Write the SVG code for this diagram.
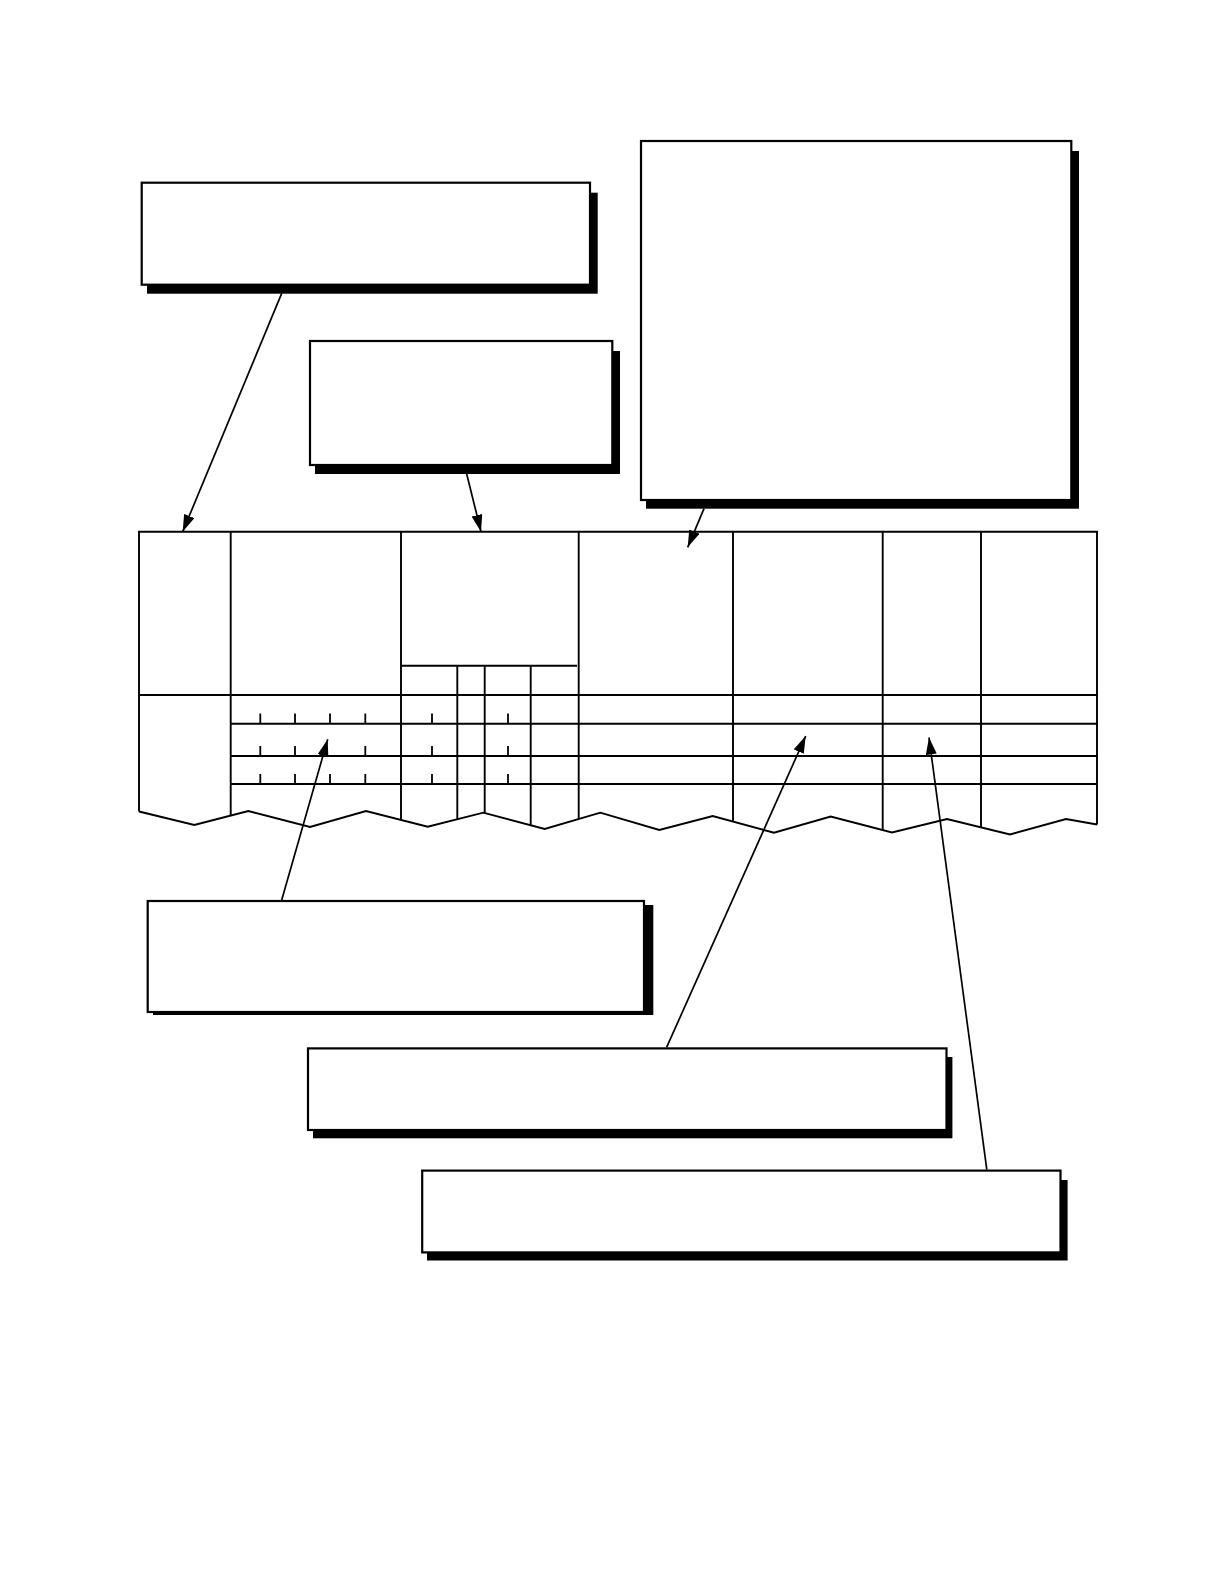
<svg xmlns="http://www.w3.org/2000/svg" width="1224" height="1584" viewBox="0 0 1224 1584">
<style>
.shadow{fill:#000;stroke:none}
.box{fill:#fff;stroke:#000;stroke-width:2.2}
.tl{fill:none;stroke:#000;stroke-width:1.9}
.tick{stroke:#000;stroke-width:1.8}
.conn{fill:none;stroke:#000;stroke-width:1.7;marker-end:url(#ah)}
</style>
<defs>
<marker id="ah" markerUnits="userSpaceOnUse" markerWidth="18" markerHeight="12" refX="17" refY="5.5" orient="auto">
<path d="M0,0 L17,5.5 L0,11 z" fill="#000"/>
</marker>
</defs>
<rect width="1224" height="1584" fill="#fff"/>

<g id="table">
<polyline class="tl" points="139,811.5 139,531.7 1097,531.7 1097,824.5"/>
<polyline class="tl" points="139,811.5 194.3,825 248.3,811 310,827 366,811 427.7,826.7 483.3,812.7 544.7,829 600.3,812.7 659.3,830 712.7,816 774,832.7 830.7,816.5 892,832.5 947,819 1010,834.5 1066,819 1097,824.5"/>
<line class="tl" x1="230.7" y1="531.7" x2="230.7" y2="815.6"/>
<line class="tl" x1="401" y1="531.7" x2="401" y2="819.9"/>
<line class="tl" x1="578.7" y1="531.7" x2="578.7" y2="819"/>
<line class="tl" x1="733" y1="531.7" x2="733" y2="821.5"/>
<line class="tl" x1="882.7" y1="531.7" x2="882.7" y2="830.1"/>
<line class="tl" x1="981" y1="531.7" x2="981" y2="827.4"/>
<line class="tl" x1="401" y1="665.7" x2="577" y2="665.7"/>
<line class="tl" x1="457.3" y1="665.7" x2="457.3" y2="819.2"/>
<line class="tl" x1="484.7" y1="665.7" x2="484.7" y2="813.1"/>
<line class="tl" x1="530.7" y1="665.7" x2="530.7" y2="825.3"/>
<line class="tl" x1="139" y1="695" x2="1097" y2="695"/>
<line class="tl" x1="230.7" y1="723.7" x2="1097" y2="723.7"/>
<line class="tl" x1="230.7" y1="756" x2="1097" y2="756"/>
<line class="tl" x1="230.7" y1="784" x2="1097" y2="784"/>
<g id="ticks">
<line class="tick" x1="260.3" y1="713.5" x2="260.3" y2="723"/>
<line class="tick" x1="295" y1="713.5" x2="295" y2="723"/>
<line class="tick" x1="330" y1="713.5" x2="330" y2="723"/>
<line class="tick" x1="365.3" y1="713.5" x2="365.3" y2="723"/>
<line class="tick" x1="432" y1="713.5" x2="432" y2="723"/>
<line class="tick" x1="508" y1="713.5" x2="508" y2="723"/>
<line class="tick" x1="260.3" y1="746" x2="260.3" y2="755"/>
<line class="tick" x1="295" y1="746" x2="295" y2="755"/>
<line class="tick" x1="365.3" y1="746" x2="365.3" y2="755"/>
<line class="tick" x1="432" y1="746" x2="432" y2="755"/>
<line class="tick" x1="508" y1="746" x2="508" y2="755"/>
<line class="tick" x1="260.3" y1="774" x2="260.3" y2="783.5"/>
<line class="tick" x1="295" y1="774" x2="295" y2="783.5"/>
<line class="tick" x1="330" y1="774" x2="330" y2="783.5"/>
<line class="tick" x1="365.3" y1="774" x2="365.3" y2="783.5"/>
<line class="tick" x1="432" y1="774" x2="432" y2="783.5"/>
<line class="tick" x1="508" y1="774" x2="508" y2="783.5"/>
</g>
</g>

<g id="connectors">
<line class="conn" x1="281.7" y1="293.3" x2="182.7" y2="531.7"/>
<line class="conn" x1="466.7" y1="474" x2="481" y2="531.7"/>
<line class="conn" x1="704" y1="508.7" x2="687.7" y2="547.3"/>
<line class="conn" x1="281.7" y1="900" x2="327.7" y2="739.3"/>
<line class="conn" x1="666.6" y1="1047.4" x2="805.7" y2="736"/>
<line class="conn" x1="986.8" y1="1169.6" x2="929" y2="737.5"/>
</g>

<g id="boxA">
<rect class="shadow" x="147" y="192.7" width="450.7" height="101"/>
<rect class="box" x="141.7" y="182.7" width="448.3" height="102"/>
</g>
<g id="boxB">
<rect class="shadow" x="315" y="351" width="305" height="123"/>
<rect class="box" x="310" y="341" width="302.3" height="124"/>
</g>
<g id="boxC">
<rect class="shadow" x="646" y="151" width="433" height="357.7"/>
<rect class="box" x="641" y="141" width="430.3" height="359"/>
</g>
<g id="boxD">
<rect class="shadow" x="153" y="905" width="500.3" height="110"/>
<rect class="box" x="147.7" y="901" width="496.3" height="111"/>
</g>
<g id="boxE">
<rect class="shadow" x="313" y="1057" width="639.4" height="81.3"/>
<rect class="box" x="308" y="1048.4" width="638.5" height="81.6"/>
</g>
<g id="boxF">
<rect class="shadow" x="427" y="1180" width="640.6" height="80.5"/>
<rect class="box" x="422.2" y="1170.6" width="638.3" height="81.8"/>
</g>
</svg>
